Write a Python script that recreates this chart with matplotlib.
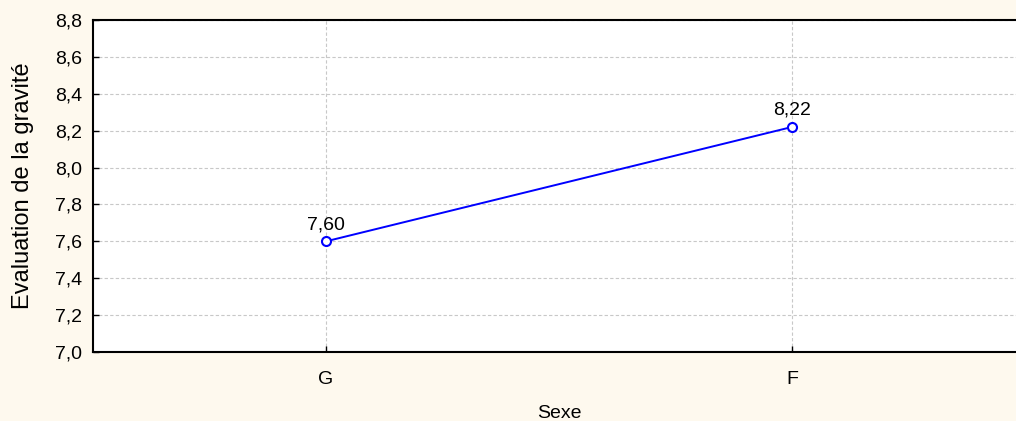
import matplotlib
matplotlib.use("Agg")
import matplotlib.pyplot as plt
from matplotlib.ticker import FuncFormatter

plt.rcParams['font.family'] = ['Liberation Sans', 'DejaVu Sans']

categories = ['G', 'F']
means = [7.60, 8.22]
yticks = [7.0, 7.2, 7.4, 7.6, 7.8, 8.0, 8.2, 8.4, 8.6, 8.8]

bg = '#fef9ee'
fig = plt.figure(figsize=(10.16, 4.21), dpi=100, facecolor=bg)
ax = fig.add_axes([93 / 1016, 1 - 352 / 421, 932 / 1016, 332 / 421])
ax.set_facecolor('white')

x = list(range(len(categories)))
ax.plot(x, means, color='#0000ff', lw=1.4, marker='o', ms=6.5,
        mfc='white', mec='#0000ff', mew=1.5, zorder=3)
for xi, v in zip(x, means):
    ax.annotate(f'{v:.2f}'.replace('.', ','), (xi, v), xytext=(0, 6),
                textcoords='offset points', ha='center', va='bottom', fontsize=14)

ax.set_xlim(-0.5, 1.5)
ax.set_ylim(7.0, 8.8)
ax.set_xticks(x)
ax.set_xticklabels(categories)
ax.set_yticks(yticks)
ax.yaxis.set_major_formatter(FuncFormatter(lambda v, p: f'{v:.1f}'.replace('.', ',')))
ax.tick_params(direction='in', length=4, width=1, labelsize=14, pad=8)
ax.tick_params(axis='x', pad=14)
ax.grid(True, color='#c8c8c8', ls=(0, (3, 2)), lw=0.8)
for s in ['left', 'bottom', 'top']:
    ax.spines[s].set_linewidth(1.5)
ax.spines['right'].set_visible(False)

ax.set_ylabel('Evaluation de la gravité', fontsize=17, labelpad=15)
ax.set_xlabel('Sexe', fontsize=14, labelpad=12)

fig.savefig('out.png', dpi=100, facecolor=bg)
